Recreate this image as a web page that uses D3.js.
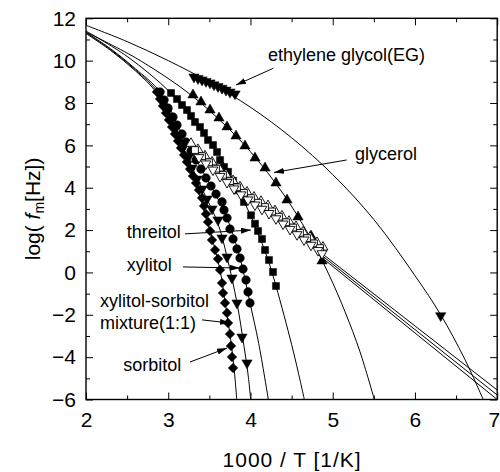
<!DOCTYPE html>
<html><head><meta charset="utf-8">
<script src="https://cdn.jsdelivr.net/npm/d3@7"></script>
<style>body{margin:0;background:#fff}svg{display:block}text{font-family:"Liberation Sans",Arial,sans-serif;fill:#000}</style>
</head><body><svg id="c" width="500" height="472"></svg>
<script>
// ---------- axes ----------
const xDomain = [2, 7];
const yDomain = [-6, 12];
const xMajor = [2, 3, 4, 5, 6, 7];
const xMinor = [2.5, 3.5, 4.5, 5.5, 6.5];
const yMajor = [-6, -4, -2, 0, 2, 4, 6, 8, 10, 12];
const yMinor = [-5, -3, -1, 1, 3, 5, 7, 9, 11];
const xTitle = "1000 / T [1/K]";

// ---------- measured data ----------
const egData = [[3.313,9.23],[3.362,9.16],[3.411,9.09],[3.459,9.02],[3.508,8.95],[3.556,8.86],[3.605,8.78],[3.654,8.70],[3.702,8.61],[3.751,8.52],[3.812,8.43],[6.313,-2.04]];
const glyData = [[3.301,8.38],[3.398,8.05],[3.508,7.67],[3.617,7.29],[3.715,6.87],[3.824,6.44],[3.933,5.97],[4.055,5.40],[4.177,4.93],[4.310,4.22],[4.444,3.42],[4.578,2.62],[4.736,1.72],[4.870,0.54]];
const threData = [[3.034,8.47],[3.107,8.19],[3.167,7.91],[3.228,7.67],[3.277,7.39],[3.325,7.10],[3.386,6.87],[3.435,6.58],[3.484,6.25],[3.544,6.02],[3.593,5.69],[3.630,5.31],[3.678,4.98],[3.727,4.75],[3.788,4.33],[3.848,3.88],[3.921,3.33],[4.006,2.70],[4.055,2.30],[4.092,1.96],[4.140,1.58],[4.177,1.06],[4.225,0.59],[4.274,0.02],[4.310,-0.64]];
const xylData = [[2.900,8.52],[2.949,8.14],[2.997,7.76],[3.058,7.34],[3.107,6.96],[3.167,6.54],[3.216,6.16],[3.277,5.73],[3.338,5.31],[3.398,4.88],[3.459,4.46],[3.520,4.08],[3.581,3.70],[3.654,3.33],[3.678,2.95],[3.715,2.57],[3.751,2.05],[3.788,1.58],[3.836,1.11],[3.873,0.68],[3.909,0.16],[3.946,-0.36],[3.970,-0.92],[3.994,-1.44]];
const mixData = [[2.888,8.43],[2.936,8.00],[2.985,7.58],[3.034,7.15],[3.082,6.73],[3.131,6.30],[3.180,5.88],[3.240,5.40],[3.289,4.93],[3.350,4.41],[3.411,3.94],[3.471,3.47],[3.532,3.00],[3.605,2.48],[3.654,1.63],[3.715,0.73],[3.775,-0.26],[3.836,-1.44],[3.897,-3.05],[3.958,-4.27]];
const sorData = [[2.863,8.52],[2.900,8.19],[2.936,7.86],[2.973,7.53],[3.009,7.20],[3.046,6.87],[3.082,6.54],[3.119,6.21],[3.155,5.88],[3.192,5.55],[3.228,5.22],[3.265,4.88],[3.301,4.55],[3.338,4.22],[3.374,3.89],[3.411,3.52],[3.435,3.14],[3.459,2.76],[3.484,2.38],[3.508,1.96],[3.532,1.53],[3.569,1.06],[3.605,0.64],[3.630,0.12],[3.654,-0.50],[3.666,-0.97],[3.690,-1.44],[3.715,-1.91],[3.727,-2.39],[3.751,-2.91],[3.763,-3.47],[3.775,-3.99],[3.788,-4.51]];
const openUpData = [[3.277,6.09],[3.362,5.80],[3.447,5.50],[3.532,5.21],[3.617,4.92],[3.702,4.63],[3.788,4.33],[3.873,4.04],[3.958,3.79],[4.043,3.55],[4.128,3.35],[4.213,3.15],[4.298,2.91],[4.383,2.66],[4.468,2.41],[4.554,2.16],[4.639,1.91],[4.724,1.66],[4.809,1.41],[4.882,1.19]];
const openSqData = [[3.325,5.78],[3.411,5.49],[3.496,5.20],[3.581,4.90],[3.666,4.61],[3.751,4.31],[3.836,4.02],[3.921,3.76],[4.006,3.51],[4.092,3.29],[4.177,3.09],[4.262,2.88],[4.347,2.63],[4.432,2.37],[4.517,2.12],[4.602,1.87],[4.688,1.62],[4.773,1.37],[4.846,1.15]];
const openDnData = [[3.374,5.43],[3.459,5.13],[3.544,4.84],[3.630,4.54],[3.715,4.25],[3.800,3.95],[3.885,3.67],[3.970,3.43],[4.055,3.19],[4.140,2.99],[4.225,2.79],[4.310,2.54],[4.396,2.29],[4.481,2.04],[4.566,1.79],[4.651,1.54],[4.736,1.29],[4.821,1.04],[4.870,0.89]];

// ---------- fitted curves ----------
const egFit  = [[2,11.67],[2.5,10.9],[3,10.0],[3.5,8.99],[4,7.8],[4.5,6.36],[5,4.62],[5.5,2.5],[6,-0.15],[6.313,-2.0],[6.6,-4.05],[6.83,-6.0]];
const glyFit = [[2,11.35],[2.6,10.14],[3.216,8.56],[3.6,7.29],[4.0,5.70],[4.4,3.70],[4.7,1.83],[4.95,-0.07],[5.15,-1.86],[5.332,-3.75],[5.506,-6.0]];
const threFit= [[2,11.4],[2.5,10.2],[3.034,8.47],[3.4,6.8],[3.7,5.0],[4.0,2.7],[4.2,0.75],[4.31,-0.64],[4.5,-3.4],[4.58,-4.7],[4.655,-6.0]];
const xylFit = [[2,11.34],[2.3,10.56],[2.6,9.62],[2.9,8.52],[3.216,6.16],[3.52,4.08],[3.715,2.57],[3.873,0.68],[3.994,-1.44],[4.1,-3.35],[4.217,-6.0]];
const mixFit = [[2,11.32],[2.3,10.52],[2.6,9.57],[2.888,8.43],[3.18,5.9],[3.411,3.95],[3.605,2.3],[3.715,0.73],[3.836,-1.44],[3.92,-3.45],[3.97,-4.8],[4.003,-6.0]];
const sorFit = [[2,11.28],[2.3,10.48],[2.6,9.52],[2.863,8.45],[3.082,6.6],[3.301,4.55],[3.508,1.96],[3.63,0.1],[3.70,-1.6],[3.76,-3.2],[3.80,-4.5],[3.833,-6.0]];
const lineUp = [[4.894,0.82],[7.0,-5.55]];
const lineSq = [[4.894,0.72],[7.0,-5.79]];
const lineDn = [[4.894,0.62],[7.0,-6.0]];

// ---------- annotations (data units) ----------
const labels = [
  {t:"ethylene glycol(EG)", x:4.213, y:9.98},
  {t:"glycerol", x:5.271, y:5.33},
  {t:"threitol", x:2.495, y:1.63},
  {t:"xylitol", x:2.495, y:0.07},
  {t:"xylitol-sorbitol", x:2.170, y:-1.61},
  {t:"mixture(1:1)", x:2.170, y:-2.67},
  {t:"sorbitol", x:2.454, y:-4.65}
];
const arrows = [
  [[4.278,9.64],[3.824,8.85]],
  [[5.170,5.31],[4.286,4.72]],
  [[3.204,1.82],[4.006,2.00]],
  [[3.180,0.26],[3.873,0.21]],
  [[3.411,-2.24],[3.751,-2.39]],
  [[3.265,-4.23],[3.715,-3.57]]
];

// ---------- drawing ----------
const svg = d3.select("#c");
const L = 86, R = 497.2, T = 18.3, B = 399.5;
const x = d3.scaleLinear().domain(xDomain).range([L, R]);
const y = d3.scaleLinear().domain(yDomain).range([B, T]);

const defs = svg.append("defs");
defs.append("clipPath").attr("id","clip").append("rect")
  .attr("x",L).attr("y",T).attr("width",R-L).attr("height",B-T);
defs.append("marker").attr("id","ah").attr("viewBox","0 0 10 6")
  .attr("refX",10).attr("refY",3).attr("markerWidth",10).attr("markerHeight",6)
  .attr("markerUnits","userSpaceOnUse").attr("orient","auto")
  .append("path").attr("d","M0,0L10,3L0,6Z").attr("fill","#000");

const line = d3.line().x(d=>x(d[0])).y(d=>y(d[1])).curve(d3.curveCatmullRom.alpha(0.5));
const straight = d3.line().x(d=>x(d[0])).y(d=>y(d[1]));
const plot = svg.append("g").attr("clip-path","url(#clip)");

[egFit, glyFit, threFit, xylFit, mixFit, sorFit].forEach(f=>{
  plot.append("path").attr("d", line(f)).attr("fill","none").attr("stroke","#000").attr("stroke-width",1);
});
[lineUp, lineSq, lineDn].forEach(f=>{
  plot.append("path").attr("d", straight(f)).attr("fill","none").attr("stroke","#000").attr("stroke-width",1);
});

function markers(data, type, size, rot, filled){
  const sym = d3.symbol().type(type).size(size);
  plot.append("g").selectAll("path").data(data).join("path")
    .attr("d", sym)
    .attr("transform", d=>`translate(${x(d[0])},${y(d[1])}) rotate(${rot})`)
    .attr("fill", filled ? "#000" : "#fff")
    .attr("stroke", "#000").attr("stroke-width", filled ? 0.5 : 0.9);
}
markers(egData, d3.symbolTriangle, 46, 180, true);
markers(glyData, d3.symbolTriangle, 46, 0, true);
markers(threData, d3.symbolSquare, 50, 0, true);
markers(sorData, d3.symbolSquare, 46, 45, true);
markers(mixData, d3.symbolTriangle, 46, 180, true);
markers(xylData, d3.symbolCircle, 58, 0, true);
markers(openUpData, d3.symbolTriangle, 42, 0, false);
markers(openSqData, d3.symbolSquare, 46, 0, false);
markers(openDnData, d3.symbolTriangle, 42, 180, false);

// annotations
svg.append("g").selectAll("line").data(arrows).join("line")
  .attr("x1",d=>x(d[0][0])).attr("y1",d=>y(d[0][1]))
  .attr("x2",d=>x(d[1][0])).attr("y2",d=>y(d[1][1]))
  .attr("stroke","#000").attr("stroke-width",1).attr("marker-end","url(#ah)");
svg.append("g").selectAll("text").data(labels).join("text")
  .attr("x",d=>x(d.x)).attr("y",d=>y(d.y)).attr("font-size",18).text(d=>d.t);

// axes
function ax(gen, tr, vals, size, lab){
  const g = svg.append("g").attr("transform",tr)
    .call(gen.tickValues(vals).tickSizeInner(-size).tickSizeOuter(0)
      .tickPadding(lab ? lab : 3).tickFormat(lab ? d3.format("d") : ""));
  g.select(".domain").remove();
  g.selectAll(".tick line").attr("stroke","#000").attr("stroke-width",1);
  g.selectAll("text").attr("font-size",21).attr("font-family","Liberation Sans, Arial, sans-serif");
  return g;
}
const xb = ax(d3.axisBottom(x), `translate(0,${B})`, xMajor, 7, 13);
ax(d3.axisBottom(x), `translate(0,${B})`, xMinor, 4, 0);
ax(d3.axisTop(x), `translate(0,${T})`, xMajor, 7, 0);
ax(d3.axisTop(x), `translate(0,${T})`, xMinor, 4, 0);
ax(d3.axisLeft(y), `translate(${L},0)`, yMajor, 7, 10);
ax(d3.axisLeft(y), `translate(${L},0)`, yMinor, 4, 0);
ax(d3.axisRight(y), `translate(${R},0)`, yMajor, 7, 0);
ax(d3.axisRight(y), `translate(${R},0)`, yMinor, 4, 0);
svg.selectAll(".tick text").filter(function(){return this.textContent==="";}).remove();
// keep the last x label inside the picture
xb.selectAll(".tick text").filter(d=>d===xDomain[1]).attr("text-anchor","end").attr("x",2.5);

svg.append("rect").attr("x",L).attr("y",T).attr("width",R-L).attr("height",B-T)
  .attr("fill","none").attr("stroke","#000").attr("stroke-width",1.4);

// titles
svg.append("text").attr("x",(L+R)/2).attr("y",466.5).attr("text-anchor","middle")
  .attr("font-size",21).attr("textLength",138).attr("lengthAdjust","spacing").text(xTitle);
const yt = svg.append("text").attr("transform",`translate(40,${(T+B)/2}) rotate(-90)`)
  .attr("text-anchor","middle").attr("font-size",21);
yt.append("tspan").text("log( ");
yt.append("tspan").attr("font-style","italic").text("f");
yt.append("tspan").attr("font-size",14).attr("dy",4).text("m");
yt.append("tspan").attr("dy",-4).text("[Hz])");
</script></body></html>
